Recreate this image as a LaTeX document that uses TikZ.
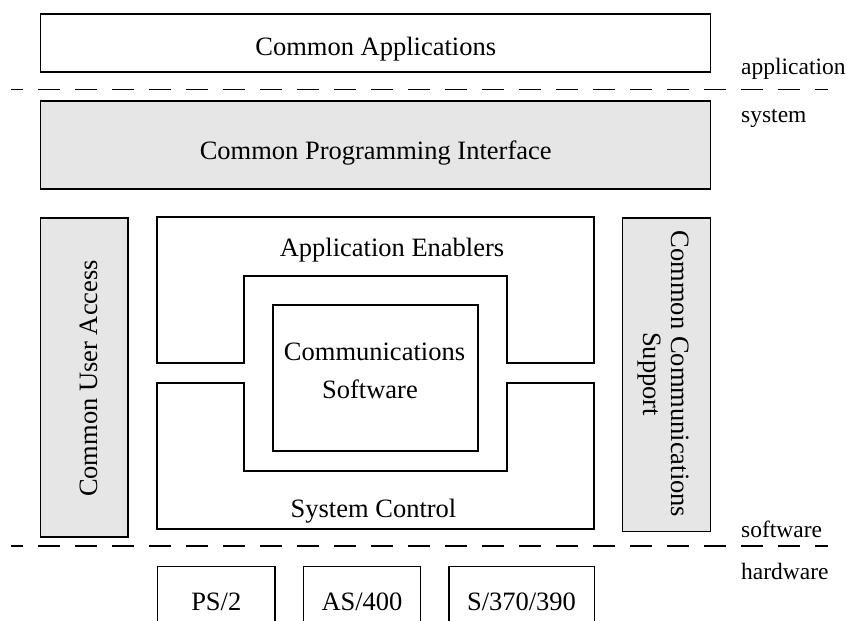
\documentclass[tikz,border=0pt]{standalone}
\usepackage{fontspec}
\setmainfont{Liberation Serif}
\definecolor{panel}{RGB}{230,230,230}
\begin{document}
\begin{tikzpicture}[x=1pt,y=-1pt,
  frame/.style={draw=black,line width=1.2pt,inner sep=0pt,outer sep=0pt},
  shaded/.style={frame,fill=panel},
  txt/.style={inner sep=0pt,font=\fontsize{26.5}{37.5}\selectfont},
  side/.style={inner sep=0pt,anchor=base west,font=\fontsize{23.5}{28}\selectfont},
  divider/.style={line width=1.2pt,dash pattern=on 22pt off 15pt,dash phase=10pt}]
\useasboundingbox (0,0) rectangle (847,621);

% top layers
\node[frame,minimum width=670pt,minimum height=58pt] (ca) at (375.7,43) {};
\node[txt,anchor=base] (catext) at (375.7,55) {Common Applications};
\node[shaded,minimum width=670pt,minimum height=88pt] (cpi) at (375.7,145) {};
\node[txt,anchor=base] (cpitext) at (375.7,159.5) {Common Programming Interface};

% layer dividers
\coordinate (d1l) at (11,89.5);
\coordinate (d1r) at (828,89.5);
\coordinate (d2l) at (11,546);
\coordinate (d2r) at (828,546);
\draw[divider] (d1l) -- (d1r);
\draw[divider] (d2l) -- (d2r);

% layer names
\node[side] (lapp) at (741,74) {application};
\node[side] (lsys) at (741,122.5) {system};
\node[side] (lsw) at (741,537) {software};
\node[side] (lhw) at (741,579) {hardware};

% side columns
\node[shaded,minimum width=87.3pt,minimum height=319pt] (cua) at (84.35,377.5) {};
\node[txt,rotate=90,anchor=base] (cuatext) at (97,378.5) {Common User Access};
\node[shaded,minimum width=88pt,minimum height=313.7pt] (ccs) at (666.7,374.85) {};
\node[txt,rotate=-90,align=center,font=\fontsize{26.5}{28}\selectfont] (ccstext) at (663,374) {Common Communications\\Support};

% interlocking enablers / control shapes
\draw[line width=1.2pt] (157,217) -- (594,217) -- (594,363) -- (507,363) -- (507,276)
  -- (244,276) -- (244,363) -- (157,363) -- cycle;
\node[txt,anchor=base] (aetext) at (392,256) {Application Enablers};
\draw[line width=1.2pt] (157,383) -- (244,383) -- (244,471) -- (507,471) -- (507,383)
  -- (594,383) -- (594,529) -- (157,529) -- cycle;
\node[txt,anchor=base] (sctext) at (373.5,517) {System Control};

% communications core
\node[frame,minimum width=205pt,minimum height=146pt] (cs) at (375.5,378) {};
\node[txt,anchor=base] (cstext1) at (374.5,360) {Communications};
\node[txt,anchor=base] (cstext2) at (370,398) {Software};

% hardware platforms (running off the lower edge)
\draw[line width=1.2pt] (157.7,640) -- (157.7,566.7) -- (275,566.7) -- (275,640);
\node[txt,anchor=base] (ps2) at (216.3,610) {PS/2};
\draw[line width=1.2pt] (303.3,640) -- (303.3,566.7) -- (420.7,566.7) -- (420.7,640);
\node[txt,anchor=base] (as400) at (362,610) {AS/400};
\draw[line width=1.2pt] (449,640) -- (449,566.7) -- (594.3,566.7) -- (594.3,640);
\node[txt,anchor=base] (s370) at (521.5,610) {S/370/390};
\end{tikzpicture}
\end{document}
